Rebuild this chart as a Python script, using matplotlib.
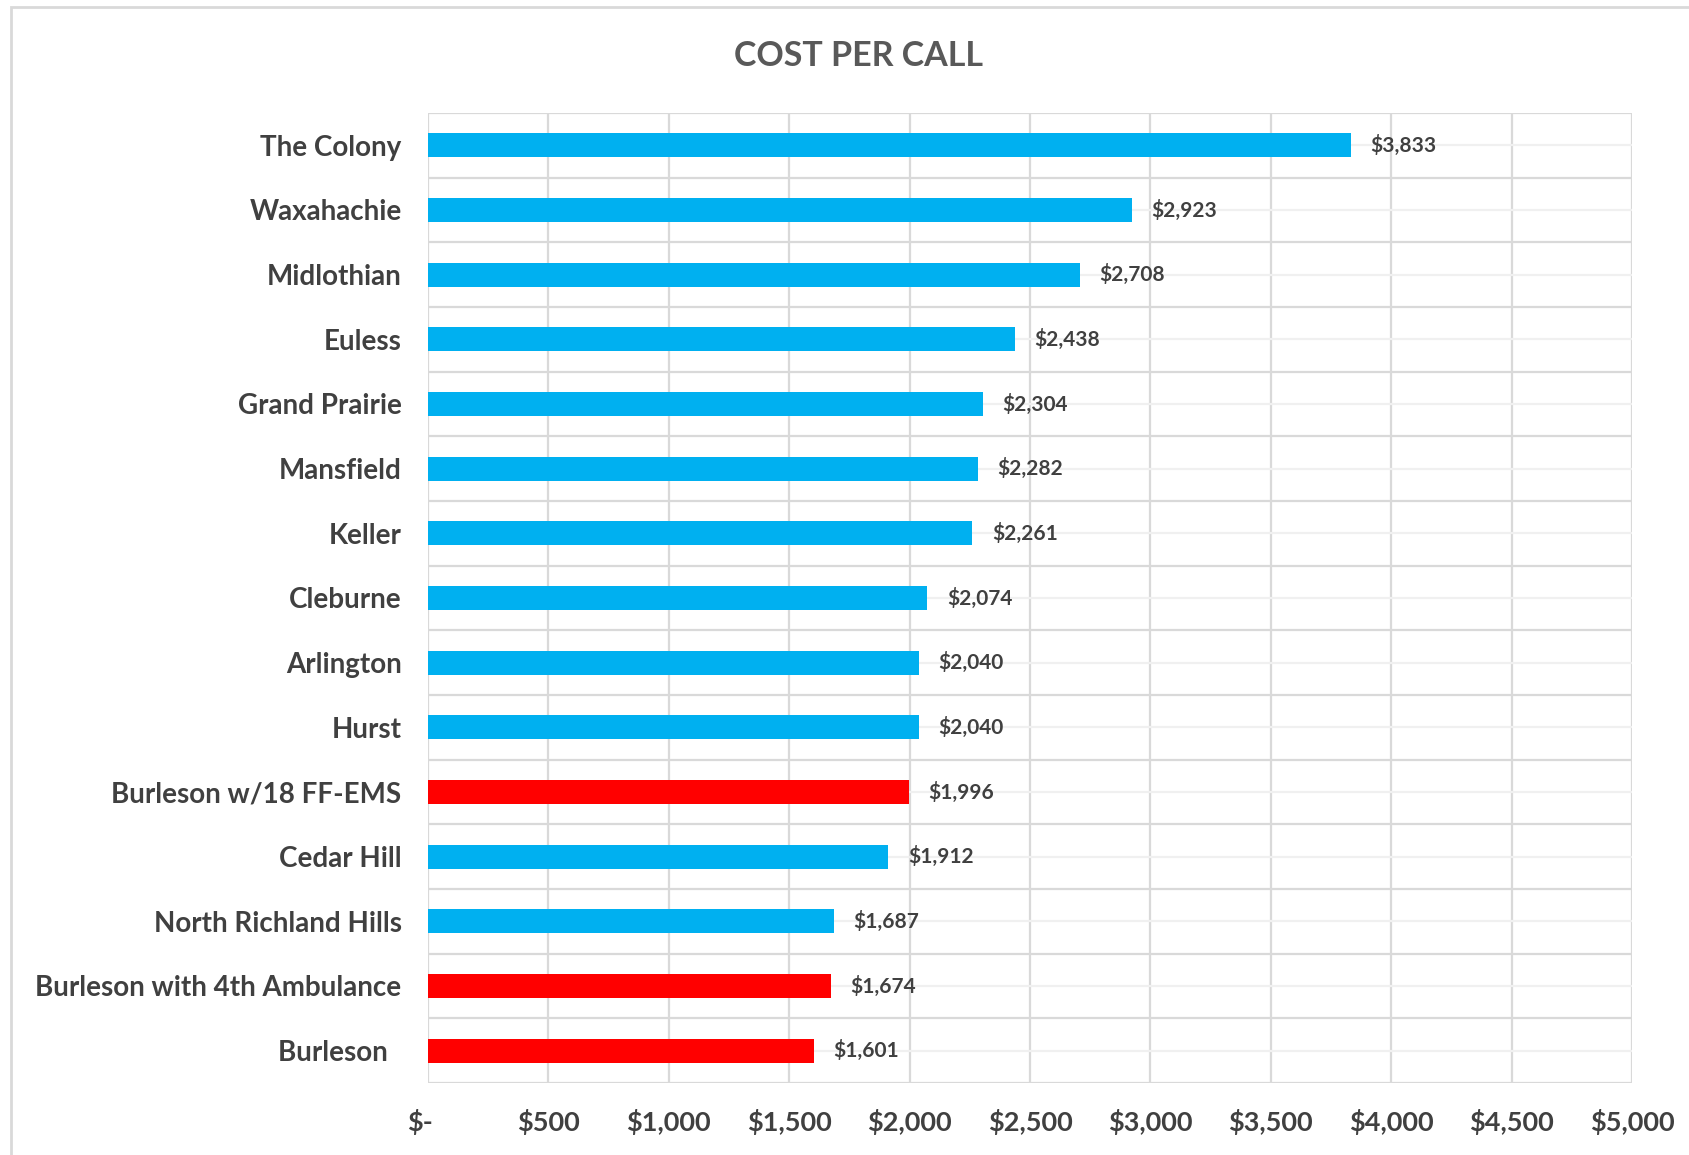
import numpy as np
import matplotlib.pyplot as plt
from matplotlib.patches import Rectangle
from matplotlib.transforms import ScaledTranslation

# cost per call by department, top to bottom as shown
cities = ['The Colony', 'Waxahachie', 'Midlothian', 'Euless', 'Grand Prairie',
          'Mansfield', 'Keller', 'Cleburne', 'Arlington', 'Hurst',
          'Burleson w/18 FF-EMS', 'Cedar Hill', 'North Richland Hills',
          'Burleson with 4th Ambulance', 'Burleson  ']
cost = [3833, 2923, 2708, 2438, 2304, 2282, 2261, 2074, 2040, 2040,
        1996, 1912, 1687, 1674, 1601]
highlight = [False] * 10 + [True, False, False, True, True]

x_ticks = list(range(0, 5001, 500))

plt.rcParams['font.family'] = ['Lato', 'DejaVu Sans']
text_col = '#404040'
grid_col = '#d9d9d9'

W, H = 1690, 1155
fig = plt.figure(figsize=(W / 100, H / 100), dpi=100)

# chart area outline
fig.patches.append(Rectangle((11 / W, -0.1), 1.2, 1 - 7 / H + 0.1, transform=fig.transFigure,
                             fill=False, edgecolor='#d9d9d9', linewidth=2))

ax = fig.add_axes([428 / W, 1 - 1083 / H, (1632 - 428) / W, 970 / H])

n = len(cities)
y = np.arange(n)[::-1]
colors = ['#FF0000' if h else '#00B0F0' for h in highlight]
ax.barh(y, cost, height=0.37, color=colors, zorder=3)

for yi, v in zip(y, cost):
    ax.annotate(f'${v:,}', (v, yi), xytext=(14, 0), textcoords='offset points',
                va='center', ha='left', fontsize=15, fontweight='bold', color=text_col)

ax.set_xlim(0, 5000)
ax.set_ylim(-0.5, n - 0.5)
ax.set_xticks(x_ticks)
ax.set_xticklabels(['$-' if t == 0 else f'${t:,}' for t in x_ticks])
ax.set_yticks(y)
ax.set_yticklabels(cities)

# gridlines: vertical at ticks, horizontal between categories and through centres
for t in x_ticks:
    ax.axvline(t, color=grid_col, linewidth=1.6, zorder=1)
for b in np.arange(-0.5, n, 1.0):
    ax.axhline(b, color=grid_col, linewidth=1.6, zorder=1)
for c in y:
    ax.axhline(c, color='#f0f0f0', linewidth=1.6, zorder=1)

for s in ax.spines.values():
    s.set_visible(False)
ax.tick_params(axis='both', length=0, colors=text_col)
ax.tick_params(axis='y', pad=19, labelsize=20)
ax.tick_params(axis='x', pad=19, labelsize=19.5)
for lab in ax.get_xticklabels() + ax.get_yticklabels():
    lab.set_fontweight('bold')
# the "$-" label sits a little left of zero
zero_lab = ax.get_xticklabels()[0]
zero_lab.set_transform(zero_lab.get_transform() + ScaledTranslation(-0.08, 0, fig.dpi_scale_trans))

fig.text(859 / W, 1 - 56 / H, 'COST PER CALL', ha='center', va='center',
         fontsize=24.5, fontweight='bold', color='#595959')

plt.savefig('out.png', dpi=100)
